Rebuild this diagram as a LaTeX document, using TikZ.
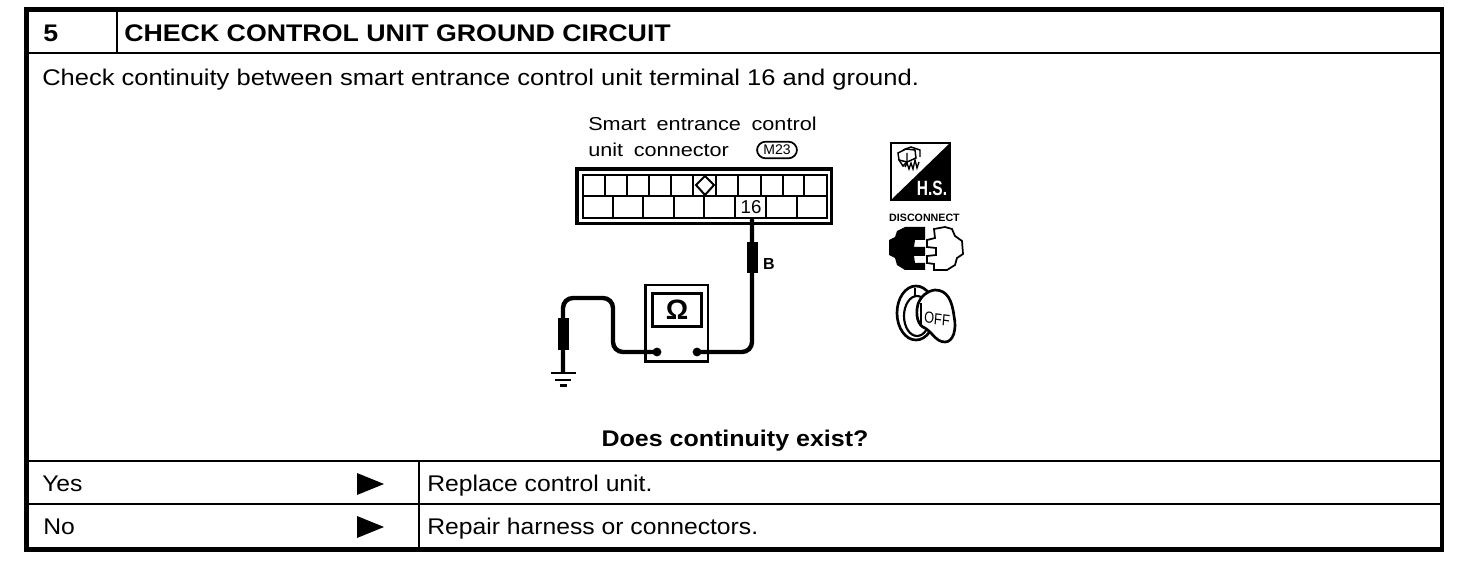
\documentclass[tikz,border=0pt]{standalone}
\usepackage{fontspec}
\setmainfont{Liberation Sans}
\newfontfamily\bodyf[FakeStretch=1.126]{Liberation Sans}
\newfontfamily\rowf[FakeStretch=1.09]{Liberation Sans}
\newfontfamily\questf[FakeStretch=1.103]{Liberation Sans}
\newfontfamily\titlef[FakeStretch=1.114]{Liberation Sans}
\newfontfamily\capf[FakeStretch=1.16]{Liberation Sans}
\tikzset{
 x=0.75pt,y=-0.75pt,
 rule/.style={line width=1.5pt,black},
 thinrule/.style={line width=1.1pt,black},
 txt/.style={anchor=base west,inner sep=0pt,font=\bodyf\fontsize{17}{20}\selectfont},
 rowtxt/.style={anchor=base west,inner sep=0pt,font=\rowf\fontsize{17}{20}\selectfont},
 captxt/.style={anchor=base west,inner sep=0pt,font=\capf\fontsize{14}{16}\selectfont},
 wire/.style={line width=3.3pt,rounded corners=7.5pt,black},
 sleeve/.style={fill=black,draw=none},
 cell/.style={line width=1.2pt,black},
 arrowmark/.style={fill=black,draw=none},
}
\begin{document}
\begin{tikzpicture}
\useasboundingbox (0,0) rectangle (1472,570);
\fill[white] (0,0) rectangle (1472,570);
% frame
\draw[line width=3.6pt] (26.5,9.5) rectangle (1442,549.5);
\draw[rule] (26.5,53) -- (1442,53);
\draw[thinrule] (117,9.5) -- (117,53);
\draw[rule] (26.5,460.5) -- (1442,460.5);
\draw[rule] (26.5,503.5) -- (1442,503.5);
\draw[thinrule] (419,460.5) -- (419,549.5);
% texts
\node[anchor=base west,inner sep=0pt,font=\titlef\fontsize{18}{20}\selectfont\bfseries] (num) at (43,42) {5};
\node[anchor=base west,inner sep=0pt,font=\titlef\fontsize{18}{20}\selectfont\bfseries] (title) at (124,42) {CHECK CONTROL UNIT GROUND CIRCUIT};
\node[txt] (desc) at (42,86) {Check continuity between smart entrance control unit terminal 16 and ground.};
\node[anchor=base,inner sep=0pt,font=\questf\fontsize{17}{20}\selectfont\bfseries] (q) at (735,446) {Does continuity exist?};
\node[rowtxt] (yes) at (42,491) {Yes};
\node[rowtxt] (no) at (43,534.5) {No};
\node[rowtxt] (rep) at (427,491) {Replace control unit.};
\node[rowtxt] (rep2) at (427,534.5) {Repair harness or connectors.};
\fill[arrowmark] (357,473) -- (384,484) -- (357,495) -- cycle;
\fill[arrowmark] (357,516) -- (384,527) -- (357,538) -- cycle;
% connector label
\node[captxt] (l1) at (588,131) {Smart\hspace{0.25em} entrance\hspace{0.25em} control};
\node[captxt] (l2) at (588,157) {unit\hspace{0.25em} connector};
\node[draw,line width=1.3pt,rounded corners=6.5pt,inner sep=0pt,minimum width=30pt,minimum height=12.5pt,font=\fontsize{10.5}{12}\selectfont] (m23) at (777,150) {M23};
% connector body
\draw[line width=2.4pt] (577,169) rectangle (831.5,223.5);
\draw[line width=1.6pt] (583,175) rectangle (827,218);
\draw[cell] (583,196) -- (827,196);
\foreach \x in {605,627,649,671,693,716,738,761,783,804}{\draw[cell] (\x,175) -- (\x,196);}
\foreach \x in {613,643,674,704,735,766,797}{\draw[cell] (\x,196) -- (\x,218);}
\draw[line width=1.5pt] (696,185) -- (705,176) -- (714,185) -- (705,195) -- cycle;
\draw[line width=1.8pt] (766,196) -- (766,218);
\draw[line width=1.8pt] (735,196) -- (735,218);
\node[inner sep=0pt,font=\fontsize{14}{16}\selectfont] (t16) at (751,207.5) {16};
% meter
\node[draw,line width=2pt,minimum width=47pt,minimum height=57.5pt,inner sep=0pt] (meter) at (676.5,323.5) {};
\node[draw,line width=2pt,minimum width=36.5pt,minimum height=25pt,inner sep=0pt,font=\fontsize{21}{24}\selectfont\bfseries] (disp) at (677,310) {Ω};
\coordinate (ta) at (657,352);
\coordinate (tb) at (697,352);
\coordinate (pin) at (752,218);
\coordinate (gnd) at (563,373);
\fill (ta) circle (4.4);
\fill (tb) circle (4.4);
\draw[wire] (tb) -- (752,352) -- (pin);
\draw[wire] (ta) -- (613,352) -- (613,298) -- (563,298) -- (gnd);
\fill[sleeve] (746.5,242) rectangle (757.5,273);
\fill[sleeve] (557.5,318) rectangle (568.5,350);
\node[anchor=base,inner sep=0pt,font=\fontsize{12}{14}\selectfont\bfseries] (b) at (769,269.5) {B};
% ground
\draw[line width=2pt] (550.5,373) -- (575.5,373);
\draw[line width=2pt] (555,380) -- (571,380);
\draw[line width=2pt] (559.5,385.5) -- (567,385.5);
% HS icon
\draw[line width=2pt] (891,143) rectangle (950,200);
\fill (950,143) -- (950,200) -- (891,200) -- cycle;
\node[anchor=base,inner sep=0pt,text=white,font=\fontsize{15.5}{18}\selectfont\bfseries,xscale=0.75] (hs) at (932,196) {H.S.};
\draw[line width=1.1pt] (898,153) -- (906,149) -- (915,150) -- (916,158) -- (907,162) -- (899,160) -- cycle;
\draw[line width=1.1pt] (903,150) -- (911,147) -- (920,150) -- (920,157);
\draw[line width=1.1pt] (899,160) -- (903,166) -- (907,162) -- (907,153);
\draw[line width=1pt] (905,167) -- (907,163) -- (909,169) -- (911,163) -- (913,169) -- (915,160) -- (917,168) -- (919,162);
% disconnect
\node[anchor=base,inner sep=0pt,font=\fontsize{8}{9}\selectfont\bfseries] (dc) at (924.5,222) {DISCONNECT};
\fill (925,227) -- (925,240) -- (915,240) -- (914,247) -- (925,247) -- (925,256) -- (914,256) -- (915,263) -- (925,263) -- (925,270) -- (905,270) -- (897,265) -- (895,258) -- (889,255) -- (889,240) -- (895,237) -- (897,231) -- (905,227) -- cycle;
\draw[line width=1.3pt,fill=white] (927,240) -- (935,238) -- (934,229) -- (945,227) -- (952,229) -- (955,236) -- (962,241) -- (963,254) -- (957,258) -- (955,265) -- (947,270) -- (934,270) -- (934,264) -- (927,263) -- (927,256) -- (936,255) -- (936,248) -- (927,247) -- cycle;
% key
\draw[line width=2pt] (916,313) ellipse (19 and 27);
\draw[line width=1.6pt] (917,316) ellipse (13 and 20);
\draw[line width=2pt,fill=white] (918,304) .. controls (921,296) and (927,291) .. (935,290) .. controls (947,290) and (952,300) .. (954,316) .. controls (957,330) and (953,342) .. (945,342) .. controls (936,342) and (933,333) .. (925,328) .. controls (918,326) and (915,315) .. (918,304) -- cycle;
\draw[line width=2pt] (921,303) -- (921,324);
\node[inner sep=0pt,font=\fontsize{12}{14}\selectfont,xscale=0.8,rotate=-6] (off) at (937,319) {OFF};
\draw[line width=1.4pt] (915,288) -- (915,297);
\end{tikzpicture}
\end{document}
